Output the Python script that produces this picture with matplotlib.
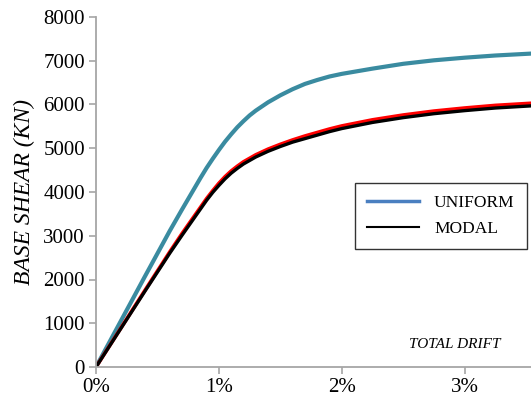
import matplotlib
matplotlib.use("Agg")
import matplotlib.pyplot as plt
from matplotlib.lines import Line2D
from matplotlib.ticker import FuncFormatter

# Pushover curves: total drift (%) vs base shear (kN)
drift = [0.0, 0.2, 0.4, 0.6, 0.7, 0.8, 0.85, 0.9, 0.95, 1.0, 1.05, 1.1,
         1.15, 1.2, 1.25, 1.3, 1.4, 1.5, 1.6, 1.7, 1.8, 1.9, 2.0, 2.25,
         2.5, 2.75, 3.0, 3.25, 3.55]
uniform = [0, 1040, 2080, 3110, 3600, 4080, 4320, 4550, 4760, 4960, 5150,
           5320, 5480, 5620, 5750, 5860, 6050, 6210, 6350, 6470, 6560,
           6640, 6700, 6820, 6930, 7010, 7070, 7120, 7165]
modal_a = [0, 880, 1760, 2630, 3050, 3450, 3650, 3850, 4030, 4200, 4350,
           4480, 4590, 4690, 4770, 4850, 4980, 5090, 5190, 5280, 5360,
           5440, 5510, 5650, 5760, 5850, 5920, 5980, 6030]
modal_b = [0, 870, 1740, 2600, 3010, 3410, 3610, 3810, 3990, 4150, 4300,
           4430, 4540, 4640, 4720, 4800, 4930, 5040, 5140, 5220, 5300,
           5380, 5450, 5590, 5700, 5790, 5860, 5920, 5970]

x_ticks = [0, 1, 2, 3]
y_ticks = [0, 1000, 2000, 3000, 4000, 5000, 6000, 7000, 8000]

plt.rcParams['font.family'] = ['Liberation Serif', 'DejaVu Serif']

fig = plt.figure(figsize=(5.31, 4.01), dpi=100)
ax = fig.add_axes([96 / 531, 34 / 401, 1 - 96 / 531, 350 / 401])

ax.plot(drift, uniform, color='#3a8ba0', lw=3.0, solid_capstyle='butt',
        solid_joinstyle='round')
ax.plot(drift, modal_a, color='#ff0000', lw=2.6, solid_capstyle='butt',
        solid_joinstyle='round')
ax.plot(drift, modal_b, color='#000000', lw=2.4, solid_capstyle='butt',
        solid_joinstyle='round')

ax.set_xlim(0, 3.54)
ax.set_ylim(0, 8000)
ax.set_xticks(x_ticks)
ax.set_yticks(y_ticks)
ax.xaxis.set_major_formatter(FuncFormatter(lambda v, p: f"{v:.0f}%"))

spine_c = '#a6a6a6'
for s in ('top', 'right'):
    ax.spines[s].set_visible(False)
for s in ('left', 'bottom'):
    ax.spines[s].set_color(spine_c)
    ax.spines[s].set_linewidth(1.3)
ax.tick_params(axis='both', colors=spine_c, labelcolor='black',
               labelsize=15, length=5, width=1.2, pad=3)

ax.set_ylabel('BASE SHEAR (KN)', fontsize=17, style='italic', labelpad=6)
ax.text(0.929, 0.045, 'TOTAL DRIFT', transform=ax.transAxes, fontsize=11,
        style='italic', ha='right', va='bottom')

handles = [Line2D([], [], color='#4a7fc0', lw=2.5),
           Line2D([], [], color='black', lw=1.5)]
leg = ax.legend(handles, ['UNIFORM', 'MODAL'], loc='upper left',
                bbox_to_anchor=(259 / 435, (367 - 183) / 350),
                fontsize=12.5, frameon=True, fancybox=False,
                edgecolor='black', handlelength=3.0, borderpad=0.7,
                labelspacing=0.55, handletextpad=0.85, borderaxespad=0)
leg.get_frame().set_linewidth(1.0)

fig.savefig('out.png', dpi=100)
